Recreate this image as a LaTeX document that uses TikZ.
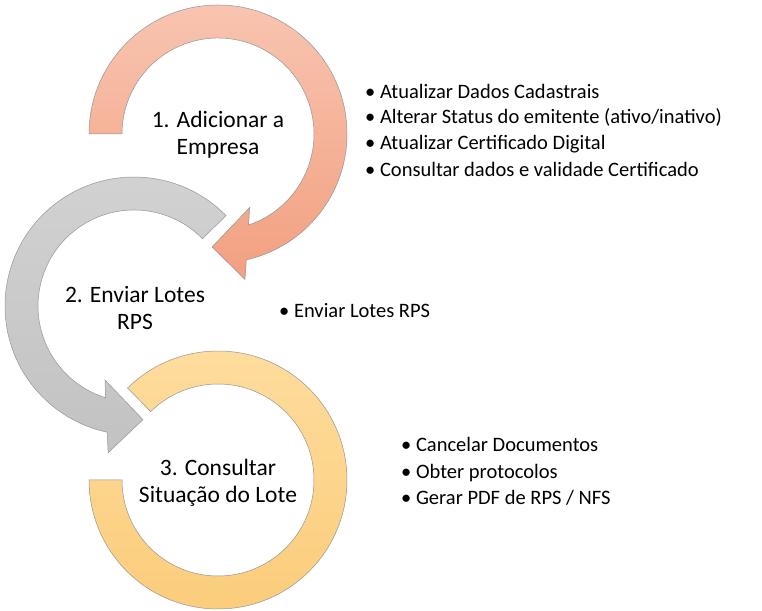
\documentclass[tikz,border=0pt]{standalone}
\usepackage{fontspec}
\setmainfont{Carlito}
\definecolor{salmonTop}{RGB}{248,196,176}
\definecolor{salmonBot}{RGB}{242,160,128}
\definecolor{grayTop}{RGB}{210,210,210}
\definecolor{grayBot}{RGB}{194,194,194}
\definecolor{yelTop}{RGB}{254,221,158}
\definecolor{yelBot}{RGB}{251,204,122}
\definecolor{edge}{RGB}{150,150,150}
\tikzset{
  ring/.style={draw=edge, line width=0.5pt, line join=miter},
  title/.style={font=\fontsize{23.5}{27}\selectfont, anchor=base, inner sep=0pt, text=black},
  bul/.style={font=\fontsize{20.5}{25}\selectfont, anchor=base west, inner sep=0pt, text=black}
}
\begin{document}
\begin{tikzpicture}[x=1pt,y=1pt]
\useasboundingbox[fill=white] (0,0) rectangle (762,610);
\coordinate (C1) at (218,476);
\coordinate (C2) at (134,304);
\coordinate (C3) at (218,130);
% ring 3 (yellow)
\path[ring, top color=yelTop, bottom color=yelBot, shift={(C3)}]
  (134.5:129) arc[start angle=134.5, end angle=-180, radius=129]
  -- (180:96) arc[start angle=-180, end angle=134.5, radius=96] -- cycle;
% ring 2 (gray)
\path[ring, top color=grayTop, bottom color=grayBot, shift={(C2)}]
  (44.5:129) arc[start angle=44.5, end angle=258, radius=129]
  -- (260:149) -- (274.5:114) -- (248.6:79.5) -- (252.8:96)
  arc[start angle=252.8, end angle=44.5, radius=96] -- cycle;
% ring 1 (salmon)
\path[ring, top color=salmonTop, bottom color=salmonBot, shift={(C1)}]
  (180:129) arc[start angle=180, end angle=-77.3, radius=129]
  -- (-79.5:148) -- (-93:113) -- (-66.6:80) -- (-71.5:96)
  arc[start angle=-71.5, end angle=180, radius=96] -- cycle;
% titles
\node[title] (t1a) at (218,482) {1. Adicionar a};
\node[title] (t1b) at (218,455) {Empresa};
\node[title] (t2a) at (135,307) {2. Enviar Lotes};
\node[title] (t2b) at (135,280) {RPS};
\node[title] (t3a) at (218,134) {3. Consultar};
\node[title] (t3b) at (218,107) {Situação do Lote};
% bullets group 1
\node[bul] (b1a) at (365,511) {• Atualizar Dados Cadastrais};
\node[bul] (b1b) at (365,486) {• Alterar Status do emitente (ativo/inativo)};
\node[bul] (b1c) at (365,460) {• Atualizar Certificado Digital};
\node[bul] (b1d) at (365,433) {• Consultar dados e validade Certificado};
% bullet group 2
\node[bul] (b2a) at (279,292) {• Enviar Lotes RPS};
% bullet group 3
\node[bul] (b3a) at (401,158) {• Cancelar Documentos};
\node[bul] (b3b) at (401,131) {• Obter protocolos};
\node[bul] (b3c) at (401,105) {• Gerar PDF de RPS / NFS};
\end{tikzpicture}
\end{document}
